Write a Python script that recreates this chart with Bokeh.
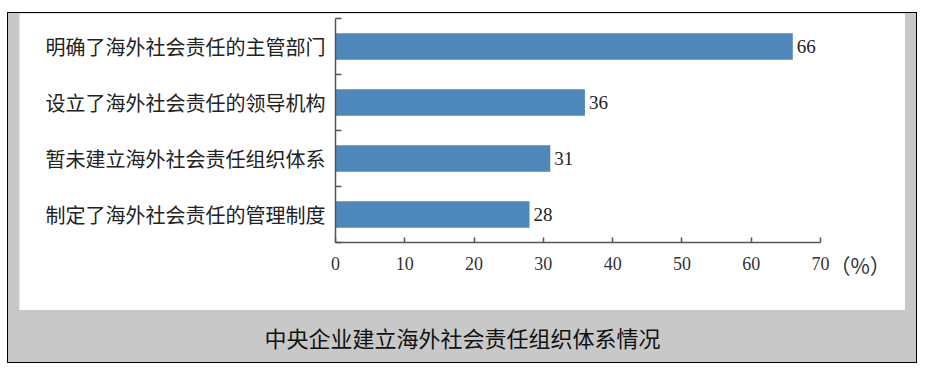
from bokeh.plotting import figure
from bokeh.models import FixedTicker, Label, Range1d, ColumnDataSource
from bokeh.layouts import column
from bokeh.core.properties import value
from bokeh.embed import file_html
from bokeh.resources import INLINE

# Data (top to bottom as in the chart)
categories = ["明确了海外社会责任的主管部门", "设立了海外社会责任的领导机构",
              "暂未建立海外社会责任组织体系", "制定了海外社会责任的管理制度"]
values = [66, 36, 31, 28]
x_ticks = [0, 10, 20, 30, 40, 50, 60, 70]
caption = "中央企业建立海外社会责任组织体系情况"
unit_text = "（%）"

n = len(categories)
ypos = [n - 1 - i + 0.5 for i in range(n)]

src = ColumnDataSource(dict(y=ypos, v=values, lab=[str(v) for v in values]))

CJK = "Noto Sans CJK SC"
SERIF = "Liberation Serif"
GRAY = "#c8c8c8"
AX = "#555555"

# pixel layout of the white chart panel
FIG_W, FIG_H = 886, 297
X_MAX = 70
X0_PX, XMAX_PX = 316, 801          # pixel positions of x=0 and x=70
YTOP_PX, Y0_PX = 5, 229            # pixel positions of y=n and y=0
px_x = (XMAX_PX - X0_PX) / X_MAX
px_y = (Y0_PX - YTOP_PX) / n

x_range = Range1d(-X0_PX / px_x, (FIG_W - X0_PX) / px_x)
y_range = Range1d(-(FIG_H - Y0_PX) / px_y, n + YTOP_PX / px_y)

p = figure(width=FIG_W, height=FIG_H, x_range=x_range, y_range=y_range,
           output_backend="svg", toolbar_location=None, min_border=0,
           outline_line_color=None)
p.background_fill_color = "white"
p.border_fill_color = "white"
p.outline_line_alpha = 0
p.grid.visible = False

p.hbar(y="y", right="v", left=0, height=0.47, source=src, fill_color="#4e87b9", line_color=None)
p.text(x="v", y="y", text="lab", source=src, x_offset=4, text_baseline="middle", text_align="left",
       text_font=value(SERIF), text_font_size="19px", text_color="#222222")

# x axis
xa = p.xaxis[0]
xa.fixed_location = 0
xa.bounds = (0, X_MAX)
xa.ticker = FixedTicker(ticks=x_ticks, minor_ticks=[])
xa.major_tick_in = 5
xa.major_tick_out = 0
xa.axis_line_color = AX
xa.axis_line_width = 1.5
xa.major_tick_line_color = AX
xa.major_tick_line_width = 1.5
xa.major_label_text_font = SERIF
xa.major_label_text_font_size = "18px"
xa.major_label_text_color = "#333333"
xa.major_label_standoff = 14

# y axis
ya = p.yaxis[0]
ya.fixed_location = 0
ya.bounds = (0, n)
ya.ticker = FixedTicker(ticks=ypos, minor_ticks=list(range(n + 1)))
ya.major_label_overrides = {y: c for y, c in zip(ypos, categories)}
ya.major_tick_in = 0
ya.major_tick_out = 0
ya.minor_tick_in = 6
ya.minor_tick_out = 0
ya.minor_tick_line_color = AX
ya.minor_tick_line_width = 1.5
ya.axis_line_color = AX
ya.axis_line_width = 1.5
ya.major_label_text_font = CJK
ya.major_label_text_font_size = "20px"
ya.major_label_text_color = "#222222"
ya.major_label_standoff = 10

p.add_layout(Label(x=X_MAX, y=-0.41, x_offset=9, text=unit_text, text_baseline="middle",
                   text_align="left", text_font=CJK, text_font_size="21px",
                   text_color="#333333"))

c = figure(width=FIG_W, height=52, x_range=Range1d(0, 1), y_range=Range1d(0, 1),
           output_backend="svg", toolbar_location=None, min_border=0,
           x_axis_location=None, y_axis_location=None, outline_line_color=None)
c.grid.visible = False
c.background_fill_color = GRAY
c.border_fill_color = GRAY
c.add_layout(Label(x=0.5, y=0.5, text=caption, text_align="center", text_baseline="middle",
                   text_font=CJK, text_font_size="22px", text_color="#111111"))

layout = column(p, c, styles={"border": "1px solid #000000", "background-color": GRAY,
                              "padding": "0 11px", "margin": "12px 0 0 7px"})

open("out.html", "w").write(file_html(layout, INLINE))
